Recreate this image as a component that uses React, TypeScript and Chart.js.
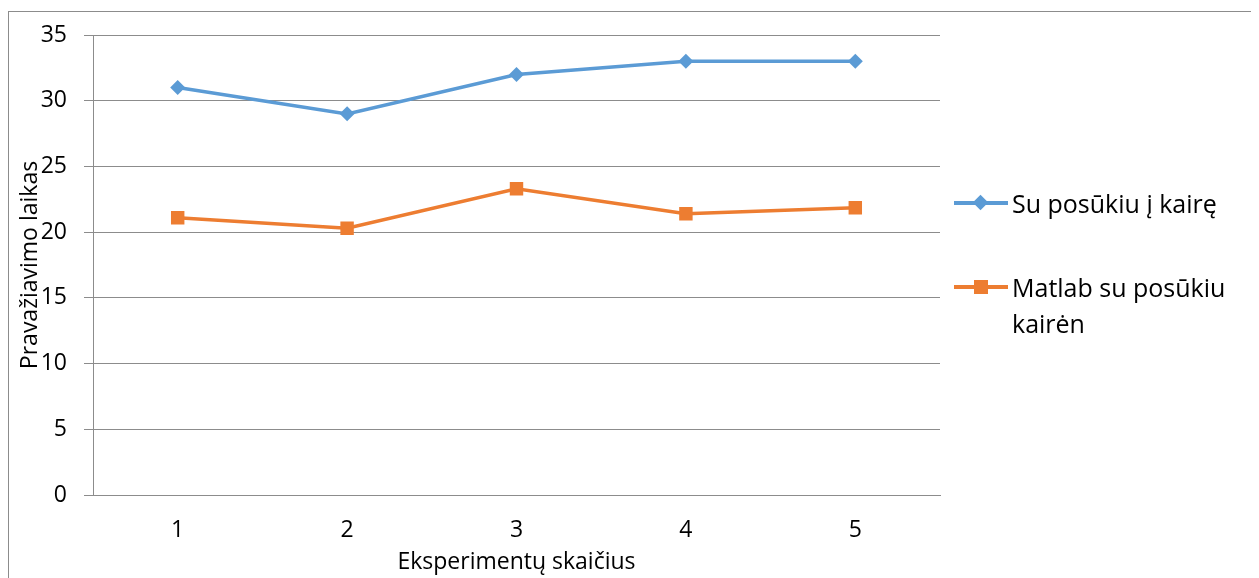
import React, { useEffect, useRef } from "react";
import { Chart, registerables } from "chart.js";

Chart.register(...registerables);

const categories = ["1", "2", "3", "4", "5"];
const seriesLeft = [31, 29, 32, 33, 33];
const seriesMatlab = [21.1, 20.3, 23.3, 21.4, 21.85];
const legendLeft = "Su posūkiu į kairę";
const legendMatlab = ["Matlab su posūkiu", "kairėn"];
const xTitle = "Eksperimentų skaičius";
const yTitle = "Pravažiavimo laikas";

const BLUE = "#5B9BD5";
const ORANGE = "#ED7D31";
const GRID = "#8c8c8c";
const FONT = "'Open Sans', 'Noto Sans', sans-serif";
const FS = 23;
const LFS = 25;

export default function App() {
  const ref = useRef<HTMLCanvasElement | null>(null);

  useEffect(() => {
    if (!ref.current) return;
    const chart = new Chart(ref.current, {
      type: "line",
      data: {
        labels: categories,
        datasets: [
          {
            label: legendLeft,
            data: seriesLeft,
            borderColor: BLUE,
            backgroundColor: BLUE,
            borderWidth: 3.5,
            pointStyle: "rectRot",
            pointRadius: 7.5,
            pointBorderWidth: 0,
            tension: 0,
          },
          {
            label: legendMatlab.join(" "),
            data: seriesMatlab,
            borderColor: ORANGE,
            backgroundColor: ORANGE,
            borderWidth: 3.5,
            pointStyle: "rect",
            pointRadius: 9.5,
            pointBorderWidth: 0,
            tension: 0,
          },
        ],
      },
      options: {
        animation: false,
        responsive: true,
        maintainAspectRatio: false,
        layout: { padding: { left: 0, top: 23, right: 316, bottom: 0 } },
        plugins: { legend: { display: false }, tooltip: { enabled: false } },
        scales: {
          x: {
            offset: true,
            grid: { display: false, drawTicks: false },
            border: { display: true, color: GRID, width: 1 },
            ticks: { color: "#000", font: { family: FONT, size: FS }, padding: 22, maxRotation: 0 },
            title: {
              display: true,
              text: xTitle,
              color: "#000",
              font: { family: FONT, size: FS },
              padding: { top: 0, bottom: 4 },
            },
            afterFit: (s: any) => {
              s.height = 85;
              s.paddingLeft = 0;
              s.paddingRight = 0;
            },
          },
          y: {
            min: 0,
            max: 35,
            ticks: { stepSize: 5, color: "#000", font: { family: FONT, size: FS }, padding: 17 },
            grid: { color: GRID, lineWidth: 1, drawTicks: true, tickLength: 9, tickColor: GRID },
            border: { display: true, color: GRID, width: 1 },
            title: {
              display: true,
              text: yTitle,
              color: "#000",
              font: { family: FONT, size: FS },
              padding: { top: 8, bottom: 0 },
            },
            afterFit: (s: any) => {
              s.width = 84;
              s.paddingTop = 0;
              s.paddingBottom = 0;
            },
          },
        },
      },
    });
    return () => chart.destroy();
  }, []);

  const textStyle: React.CSSProperties = {
    fontFamily: FONT,
    fontSize: LFS,
    color: "#000",
    lineHeight: "36px",
    whiteSpace: "nowrap",
  };

  return (
    <div
      style={{
        position: "relative",
        top: 3,
        width: 1249,
        height: 570,
        border: `1px solid ${GRID}`,
        boxSizing: "border-box",
      }}
    >
      <div style={{ position: "absolute", left: 0, top: 0, width: 1247, height: 568 }}>
        <canvas ref={ref} />
      </div>
      <div style={{ position: "absolute", left: 945, top: 173, width: 300 }}>
        <div style={{ position: "relative", height: 60 }}>
          <div style={{ position: "absolute", left: 0, top: 16, width: 54, height: 3.5, background: BLUE }} />
          <div
            style={{
              position: "absolute",
              left: 21,
              top: 12,
              width: 11,
              height: 11,
              background: BLUE,
              transform: "rotate(45deg)",
            }}
          />
          <div style={{ ...textStyle, position: "absolute", left: 58, top: 0 }}>{legendLeft}</div>
        </div>
        <div style={{ position: "relative", top: 24 }}>
          <div style={{ position: "absolute", left: 0, top: 16, width: 54, height: 3.5, background: ORANGE }} />
          <div
            style={{ position: "absolute", left: 20, top: 11, width: 14, height: 14, background: ORANGE }}
          />
          <div style={{ ...textStyle, position: "absolute", left: 58, top: 0 }}>
            {legendMatlab[0]}
            <br />
            {legendMatlab[1]}
          </div>
        </div>
      </div>
    </div>
  );
}
